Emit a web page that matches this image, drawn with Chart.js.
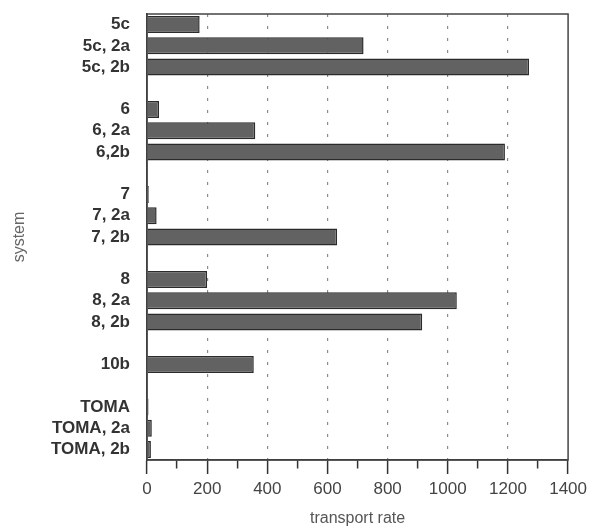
<!DOCTYPE html>
<html>
<head>
<meta charset="utf-8">
<script src="https://cdn.jsdelivr.net/npm/chart.js@4/dist/chart.umd.min.js"></script>
<style>
  html, body { margin: 0; padding: 0; background: #fff; }
  #wrap { width: 592px; height: 528px; }
</style>
</head>
<body>
<div id="wrap"><canvas id="rateChart"></canvas></div>
<script>
// systems (empty strings are the gaps between groups)
const systems = [
    '5c', '5c, 2a', '5c, 2b', '',
    '6', '6, 2a', '6,2b', '',
    '7', '7, 2a', '7, 2b', '',
    '8', '8, 2a', '8, 2b', '',
    '10b', '',
    'TOMA', 'TOMA, 2a', 'TOMA, 2b'
];
// transport rate per system
const transportRate = [
    175, 720, 1270, null,
    40, 360, 1190, null,
    6, 32, 632, null,
    200, 1030, 915, null,
    355, null,
    5, 16, 13
];
const xMin = 0;
const xMax = 1400;
const xStep = 100;

// frame on top and right of the plot
const frame = {
    id: 'frame',
    afterDraw(chart) {
        const a = chart.chartArea;
        const c = chart.ctx;
        c.save();
        c.strokeStyle = '#444';
        c.lineWidth = 1.5;
        c.strokeRect(a.left, a.top, a.right - a.left, a.bottom - a.top);
        c.restore();
    }
};

const ctx = document.getElementById('rateChart').getContext('2d');
const rateChart = new Chart(ctx, {
    type: 'bar',
    data: {
        labels: systems,
        datasets: [{
            label: 'transport rate',
            data: transportRate,
            backgroundColor: '#626262',
            borderColor: '#2b2b2b',
            borderWidth: 1.5,
            barPercentage: 0.8,
            categoryPercentage: 1
        }]
    },
    options: {
        indexAxis: 'y',
        responsive: true,
        maintainAspectRatio: false,
        animation: false,
        layout: { padding: { top: 14, right: 16, left: 0, bottom: 0 } },
        plugins: {
            legend: { display: false },
            tooltip: { enabled: false }
        },
        scales: {
            x: {
                min: xMin,
                max: xMax,
                afterFit: (s) => { s.height = 68; },
                ticks: {
                    stepSize: xStep,
                    autoSkip: false,
                    maxRotation: 0,
                    padding: 5,
                    color: '#444',
                    font: { family: 'Liberation Sans', size: 17 },
                    callback: (v) => (v % 200 === 0 ? v : '')
                },
                grid: {
                    color: (c) => {
                        const v = c.tick ? c.tick.value : 0;
                        return (v % 200 === 0 && v > xMin && v < xMax) ? '#8a8a8a' : 'rgba(0,0,0,0)';
                    },
                    lineWidth: 1.2,
                    tickLength: 14,
                    tickWidth: 1.5,
                    tickColor: '#333',
                    tickBorderDash: (c) => {
                        const v = c.tick ? c.tick.value : 0;
                        return v % 200 === 0 ? [] : [8, 100];
                    }
                },
                border: { display: true, color: '#333', width: 1.5, dash: [3, 9] },
                title: {
                    display: true,
                    text: 'transport rate',
                    color: '#555',
                    font: { family: 'Liberation Sans', size: 16 },
                    padding: { top: 0, bottom: 0 }
                }
            },
            y: {
                afterFit: (s) => {
                    s.width = 147;
                    s.paddingTop = 0;
                    s.paddingBottom = 0;
                },
                ticks: {
                    autoSkip: false,
                    padding: 17,
                    color: '#333',
                    font: { family: 'Liberation Sans', size: 17, weight: 'bold' }
                },
                grid: { display: false, drawTicks: false },
                border: { display: true, color: '#333', width: 1.5 },
                title: {
                    display: true,
                    text: 'system',
                    color: '#666',
                    font: { family: 'Liberation Sans', size: 16 },
                    padding: { top: 10, bottom: 0 }
                }
            }
        }
    },
    plugins: [frame]
});
</script>
</body>
</html>
